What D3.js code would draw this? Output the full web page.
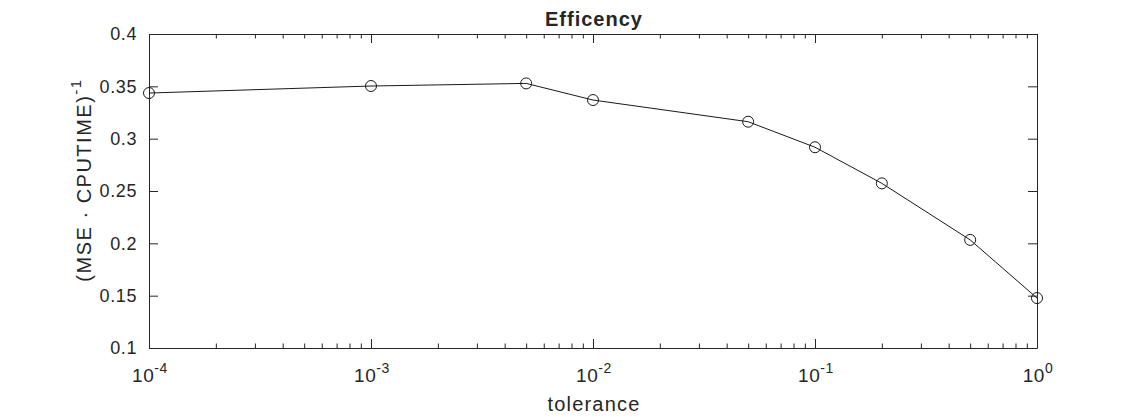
<!DOCTYPE html>
<html>
<head>
<meta charset="utf-8">
<script src="https://cdn.jsdelivr.net/npm/d3@7"></script>
<style>
  body { margin: 0; background: #fff; }
  text { font-family: "Liberation Sans", Arial, Helvetica, sans-serif; fill: #262626; }
</style>
</head>
<body>
<svg width="1146" height="417"></svg>
<script>
const tolerance = [1e-4, 1e-3, 5e-3, 1e-2, 5e-2, 1e-1, 2e-1, 5e-1, 1]
const efficiency = [0.3436, 0.3503, 0.3528, 0.3369, 0.3162, 0.2918, 0.2573, 0.2033, 0.1477]
const xDecades = [-4, -3, -2, -1, 0]
const yTicks = [0.1, 0.15, 0.2, 0.25, 0.3, 0.35, 0.4]

const margin = {top: 34, right: 109, bottom: 69, left: 149}
const width = 1146
const height = 417

const x = d3.scaleLog()
  .domain([1e-4, 1])
  .range([margin.left, width - margin.right])

const y = d3.scaleLinear()
  .domain([0.1, 0.4])
  .range([height - margin.bottom, margin.top])

const svg = d3.select('svg')

const majorX = xDecades.map(p => Math.pow(10, p))
const minorX = []
xDecades.slice(0, -1).forEach(p => {
  for (let k = 2; k < 10; k++) minorX.push(k * Math.pow(10, p))
})

const axisColor = '#262626'

// bottom axis, ticks pointing in
svg.append('g')
  .attr('transform', `translate(0, ${y(0.1)})`)
  .call(d3.axisBottom(x).tickValues(majorX).tickSize(-9).tickSizeOuter(0).tickFormat(''))
  .call(g => g.selectAll('line, path').attr('stroke', axisColor))

svg.append('g')
  .attr('transform', `translate(0, ${y(0.1)})`)
  .call(d3.axisBottom(x).tickValues(minorX).tickSize(-4.5).tickSizeOuter(0).tickFormat(''))
  .call(g => g.select('.domain').remove())
  .call(g => g.selectAll('line').attr('stroke', axisColor))

// top axis mirror
svg.append('g')
  .attr('transform', `translate(0, ${y(0.4)})`)
  .call(d3.axisTop(x).tickValues(majorX).tickSize(-9).tickSizeOuter(0).tickFormat(''))
  .call(g => g.selectAll('line, path').attr('stroke', axisColor))

svg.append('g')
  .attr('transform', `translate(0, ${y(0.4)})`)
  .call(d3.axisTop(x).tickValues(minorX).tickSize(-4.5).tickSizeOuter(0).tickFormat(''))
  .call(g => g.select('.domain').remove())
  .call(g => g.selectAll('line').attr('stroke', axisColor))

// left axis
svg.append('g')
  .attr('transform', `translate(${x(1e-4)}, 0)`)
  .call(d3.axisLeft(y).tickValues(yTicks).tickSize(-9).tickSizeOuter(0).tickPadding(12)
    .tickFormat(d => d3.format('')(+d.toFixed(2))))
  .call(g => g.selectAll('line, path').attr('stroke', axisColor))
  .call(g => g.selectAll('text').attr('font-size', 18).attr('fill', axisColor)
    .attr('letter-spacing', 0.6)
    .style('font-family', '"Liberation Sans", Arial, sans-serif'))

// right axis
svg.append('g')
  .attr('transform', `translate(${x(1)}, 0)`)
  .call(d3.axisRight(y).tickValues(yTicks).tickSize(-9).tickSizeOuter(0).tickFormat(''))
  .call(g => g.selectAll('line, path').attr('stroke', axisColor))

// x tick labels with superscript exponents
const xLabels = svg.append('g')
xDecades.forEach(p => {
  const t = xLabels.append('text')
    .attr('x', x(Math.pow(10, p)) + 1)
    .attr('y', y(0.1) + 34)
    .attr('text-anchor', 'middle')
    .attr('font-size', 19)
    .attr('letter-spacing', 0.6)
  t.append('tspan').text('10')
  t.append('tspan').attr('dy', -9).attr('font-size', 14).text(String(p))
})

// line + markers
const line = d3.line()
  .x((d, i) => x(tolerance[i]))
  .y(d => y(d))

svg.append('path')
  .datum(efficiency)
  .attr('d', line)
  .attr('fill', 'none')
  .attr('stroke', '#1a1a1a')
  .attr('stroke-width', 1)

svg.append('g')
  .selectAll('circle')
  .data(efficiency)
  .join('circle')
  .attr('cx', (d, i) => x(tolerance[i]))
  .attr('cy', d => y(d))
  .attr('r', 5.5)
  .attr('fill', 'none')
  .attr('stroke', '#1a1a1a')
  .attr('stroke-width', 1)

// title
svg.append('text')
  .attr('x', (x(1e-4) + x(1)) / 2 + 1)
  .attr('y', 26)
  .attr('text-anchor', 'middle')
  .attr('font-size', 20)
  .attr('font-weight', 'bold')
  .attr('letter-spacing', 1)
  .attr('fill', '#000')
  .text('Efficency')

// x label
svg.append('text')
  .attr('x', (x(1e-4) + x(1)) / 2 + 1)
  .attr('y', 411)
  .attr('text-anchor', 'middle')
  .attr('font-size', 20)
  .attr('letter-spacing', 1.2)
  .text('tolerance')

// y label
const yl = svg.append('text')
  .attr('transform', `translate(91, 180) rotate(-90)`)
  .attr('text-anchor', 'middle')
  .attr('font-size', 20)
  .attr('letter-spacing', 1.5)
yl.append('tspan').text('(MSE \u00B7 CPUTIME)')
yl.append('tspan').attr('dy', -10).attr('font-size', 15).text('-1')
</script>
</body>
</html>
